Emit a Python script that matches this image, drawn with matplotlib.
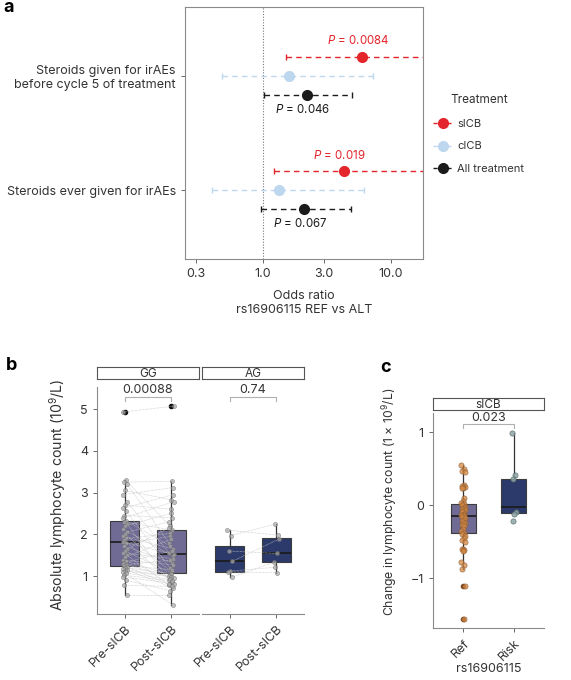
import matplotlib
matplotlib.use("Agg")
import matplotlib.pyplot as plt
import numpy as np
from matplotlib.lines import Line2D

plt.rcParams["font.family"] = ["Inter", "DejaVu Sans"]
plt.rcParams["mathtext.fontset"] = "custom"
plt.rcParams["mathtext.rm"] = "Inter"
plt.rcParams["mathtext.it"] = "Inter:italic"

# ---- panel a: odds ratios ----
outcomes = ["Steroids given for irAEs\nbefore cycle 5 of treatment", "Steroids ever given for irAEs"]
treatments = ["sICB", "cICB", "All treatment"]
odds = [[5.93, 1.60, 2.21], [4.27, 1.34, 2.09]]
ci_low = [[1.51, 0.48, 1.02], [1.22, 0.40, 0.96]]
ci_high = [[25.0, 7.3, 4.97], [25.0, 6.2, 4.88]]
p_text = [["0.0084", None, "0.046"], ["0.019", None, "0.067"]]

# ---- panel b: lymphocyte counts (paired pre / post) ----
genotypes = ["GG", "AG"]
timepoints = ["Pre-sICB", "Post-sICB"]
gg_pre = [4.93, 3.30, 3.25, 3.20, 3.05, 2.95, 2.78, 2.70, 2.62, 2.55, 2.45, 2.38,
          2.33, 2.30, 2.25, 2.20, 2.12, 2.05, 2.00, 1.95, 1.90, 1.87, 1.82, 1.78,
          1.72, 1.65, 1.60, 1.55, 1.50, 1.45, 1.38, 1.35, 1.32, 1.30, 1.27, 1.25,
          1.22, 1.20, 1.18, 1.15, 1.12, 1.10, 1.07, 1.02, 0.98, 0.90, 0.78, 0.55]
gg_post = [5.07, 2.20, 3.27, 1.80, 2.83, 3.12, 1.55, 2.60, 2.95, 1.20, 2.40, 2.78,
           1.72, 2.10, 0.90, 2.50, 1.48, 2.30, 1.10, 1.65, 2.02, 0.85, 1.52, 1.95,
           1.32, 2.15, 1.08, 1.42, 0.78, 1.88, 1.27, 1.03, 1.60, 0.95, 1.38, 1.15,
           0.80, 1.06, 0.72, 1.00, 0.98, 0.30, 0.92, 0.88, 0.82, 0.65, 0.75, 0.55]
ag_pre = [2.10, 1.97, 1.60, 1.35, 1.12, 1.10, 0.97]
ag_post = [1.98, 2.24, 1.54, 1.88, 1.21, 1.08, 1.33]
# box stats: whislo, q1, med, q3, whishi, fliers
gg_boxes = [(0.55, 1.25, 1.82, 2.33, 3.30, [4.93]), (0.30, 1.07, 1.52, 2.10, 3.27, [5.07])]
ag_boxes = [(0.97, 1.10, 1.35, 1.72, 2.10, []), (1.08, 1.33, 1.54, 1.90, 2.24, [])]
b_pvals = ["0.00088", "0.74"]

# ---- panel c: change in lymphocyte count ----
groups_c = ["Ref", "Risk"]
ref_change = [0.55, 0.50, 0.47, 0.46, 0.27, 0.26, 0.25, 0.24, 0.23, 0.10, 0.05, 0.03,
              0.02, 0.00, -0.02, -0.04, -0.05, -0.07, -0.08, -0.10, -0.12, -0.13,
              -0.14, -0.15, -0.16, -0.18, -0.20, -0.22, -0.24, -0.25, -0.27, -0.29,
              -0.32, -0.35, -0.38, -0.40, -0.42, -0.45, -0.48, -0.50, -0.60, -0.60,
              -0.62, -0.63, -0.78, -0.82, -0.87, -1.10, -1.56]
risk_change = [0.98, 0.41, 0.36, -0.10, -0.12, -0.21]
c_boxes = [(-0.87, -0.38, -0.15, 0.02, 0.55, [-1.10, -1.56]), (-0.11, -0.11, -0.02, 0.36, 0.98, [])]
c_pval = "0.023"

tr_colors = ["#e4252b", "#bdd7ee", "#1b1b1b"]
txt = "#333333"
spine_c = "#8a8a8a"
FS = 9

fig = plt.figure(figsize=(5.71, 6.8), dpi=100)
W, H = 571, 680


def px_axes(x0, y0, x1, y1):
    return fig.add_axes([x0 / W, 1 - y1 / H, (x1 - x0) / W, (y1 - y0) / H])


def style_axes(ax):
    for s in ax.spines.values():
        s.set_color(spine_c)
        s.set_linewidth(0.8)
    ax.tick_params(colors="#666666", labelcolor=txt, labelsize=FS, length=3, width=0.7)


# ---------- panel a ----------
ax = px_axes(185, 7, 423, 259)
style_axes(ax)
ax.set_xscale("log")
ax.axvline(1.0, color="#777777", lw=0.8, ls=(0, (1, 1.5)), zorder=0)
off = 0.167
for i in range(len(outcomes)):
    yc = 2 - i
    for j in range(len(treatments)):
        y = yc + (1 - j) * off
        o = odds[i][j]
        eb = ax.errorbar(o, y, xerr=[[o - ci_low[i][j]], [ci_high[i][j] - o]], fmt="o",
                         color=tr_colors[j], ms=7, capsize=2.5, elinewidth=1, capthick=1)
        eb[2][0].set_linestyle((0, (4, 3)))
        if p_text[i][j]:
            dy = 0.14 if j == 0 else -0.125
            ax.text(o * 0.93, y + dy, r"$\it{P}$ = " + p_text[i][j], color=tr_colors[j],
                    fontsize=8.3, ha="center", va="center")
ax.set_xlim(0.246, 17.8)
ax.set_ylim(0.395, 2.605)
ax.set_xticks([0.3, 1, 3, 10])
ax.set_xticklabels(["0.3", "1.0", "3.0", "10.0"])
ax.minorticks_off()
ax.set_yticks([2, 1])
ax.set_yticklabels(outcomes, fontsize=FS, linespacing=1.15)
ax.set_xlabel("Odds ratio\nrs16906115 REF vs ALT", fontsize=FS, color=txt, linespacing=1.3,
              labelpad=7)

handles = [Line2D([], [], color=c, marker="o", ms=7, lw=1, ls=(0, (3, 2))) for c in tr_colors]
leg = fig.legend(handles, treatments, title="Treatment", loc="center left",
                 bbox_to_anchor=(423 / W, 1 - 134 / H), frameon=False, fontsize=8,
                 title_fontsize=8.5, labelspacing=1.15, handlelength=1.8, handletextpad=0.4)
for t in leg.get_texts():
    t.set_color(txt)
leg.get_title().set_color(txt)

fig.text(3 / W, 1 - 8 / H, "a", fontsize=13, fontweight="bold", va="center")


# ---------- panel b ----------
def jitter(n, width):
    k = np.arange(n)
    return ((k * 7) % 11 - 5) / 5 * width


def draw_boxes(ax, stats, color, width, flier_col="#111111"):
    bx = []
    for (lo, q1, med, q3, hi, fl) in stats:
        bx.append(dict(whislo=lo, q1=q1, med=med, q3=q3, whishi=hi, fliers=fl))
    ax.bxp(bx, positions=[1, 2], widths=width, showcaps=False, patch_artist=True,
           boxprops=dict(facecolor=color, edgecolor="#3c3c3c", lw=0.8),
           medianprops=dict(color="#1a1a1a", lw=1.2),
           whiskerprops=dict(color="#333333", lw=0.9),
           flierprops=dict(marker="o", markerfacecolor=flier_col, markeredgecolor=flier_col, ms=3),
           manage_ticks=False, zorder=1)


def strip(x0, x1, y0, y1, label):
    sa = px_axes(x0, y0, x1, y1)
    sa.set_xticks([])
    sa.set_yticks([])
    for s in sa.spines.values():
        s.set_color("#555555")
        s.set_linewidth(0.8)
    sa.text(0.5, 0.45, label, ha="center", va="center", fontsize=8.5, color=txt,
            transform=sa.transAxes)


facets = [(97, 199, gg_pre, gg_post, gg_boxes, "#6f6b95"),
          (202, 304, ag_pre, ag_post, ag_boxes, "#2c3a6b")]
for k, (x0, x1, pre, post, boxes, col) in enumerate(facets):
    ax = px_axes(x0, 387, x1, 614)
    style_axes(ax)
    draw_boxes(ax, boxes, col, 0.62)
    n = len(pre)
    xp = 1 + jitter(n, 0.05)
    xq = 2 + jitter(n, 0.05)[::-1]
    for a, b, c, d in zip(xp, xq, pre, post):
        ax.plot([a, b], [c, d], color="#c4c4c4", lw=0.5, ls=(0, (1, 1)), zorder=2)
    ax.scatter(xp, pre, s=9, facecolor="#a8a8a8", edgecolor="#666666", lw=0.4, alpha=0.7, zorder=3)
    ax.scatter(xq, post, s=9, facecolor="#a8a8a8", edgecolor="#666666", lw=0.4, alpha=0.7, zorder=3)
    ax.plot([1, 1, 2, 2], [5.19, 5.29, 5.29, 5.19], color="#b0b0b0", lw=0.8)
    ax.text(1.5, 5.47, b_pvals[k], ha="center", va="center", fontsize=FS, color=txt)
    ax.set_xlim(0.4, 2.6)
    ax.set_ylim(0.09, 5.53)
    ax.set_xticks([1, 2])
    ax.set_xticklabels(timepoints, rotation=45, ha="right", rotation_mode="anchor")
    ax.spines["top"].set_visible(False)
    ax.spines["right"].set_visible(False)
    if k == 0:
        ax.set_yticks([1, 2, 3, 4, 5])
        ax.set_ylabel("Absolute lymphocyte count (10$^{9}$/L)", fontsize=10.2, color=txt)
        ax.yaxis.set_label_coords(-0.284, (614 - 495) / 227)
    else:
        ax.spines["left"].set_visible(False)
        ax.set_yticks([])
    strip(x0, x1, 367, 379, genotypes[k])

fig.text(6 / W, 1 - 366 / H, "b", fontsize=13, fontweight="bold", va="center")

# ---------- panel c ----------
ax = px_axes(433, 413, 544, 628)
style_axes(ax)
draw_boxes(ax, c_boxes, "#6f6b95", 0.5, flier_col="#7a4a25")
# recolour the risk box
ax.patches[1].set_facecolor("#2c3a6b")
xr = 1 + jitter(len(ref_change), 0.04)
ax.scatter(xr, ref_change, s=14, facecolor="#d68a45", edgecolor="#8a5a30", lw=0.5, alpha=0.75, zorder=3)
xk = 2 + jitter(len(risk_change), 0.04)
ax.scatter(xk, risk_change, s=14, facecolor="#8fa6a6", edgecolor="#556666", lw=0.5, alpha=0.85, zorder=3)
ax.plot([1, 1, 2, 2], [1.06, 1.11, 1.11, 1.06], color="#b0b0b0", lw=0.8)
ax.text(1.5, 1.19, c_pval, ha="center", va="center", fontsize=FS, color=txt)
ax.set_xlim(0.4, 2.6)
ax.set_ylim(-1.68, 1.26)
ax.set_yticks([-1, 0, 1])
ax.set_xticks([1, 2])
ax.set_xticklabels(groups_c, rotation=45, ha="right", rotation_mode="anchor")
ax.spines["top"].set_visible(False)
ax.spines["right"].set_visible(False)
ax.set_ylabel("Change in lymphocyte count (1 × 10$^{9}$/L)", fontsize=8.8, color=txt)
ax.yaxis.set_label_coords(-0.30, (628 - 502) / 215)
ax.set_xlabel("rs16906115", fontsize=FS, color=txt, labelpad=0)
strip(433, 544, 398, 410, "sICB")
fig.text(380 / W, 1 - 368 / H, "c", fontsize=13, fontweight="bold", va="center")

fig.savefig("out.png", dpi=100)
